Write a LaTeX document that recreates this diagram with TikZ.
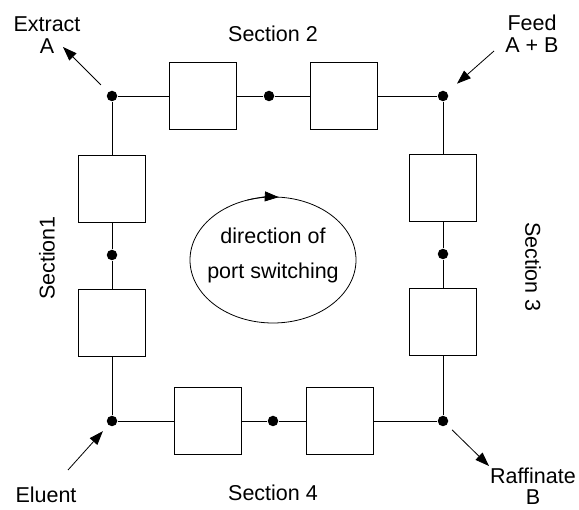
\documentclass[tikz,border=0pt]{standalone}
\usepackage{fontspec}
\setmainfont{Liberation Sans}
\usetikzlibrary{arrows.meta,shapes.geometric}

\begin{document}
\begin{tikzpicture}[x=1pt, y=-1pt, line width=0.8pt,
    column/.style={draw, minimum width=67pt, minimum height=67pt, inner sep=0pt},
    port/.style={circle, fill, inner sep=0pt, minimum size=10.5pt},
    flow/.style={-{Triangle[length=14pt, width=10pt]}},
    lbl/.style={font=\fontsize{21.5}{22}\selectfont, align=center, inner sep=0pt}]
    \useasboundingbox (0,0) rectangle (579,510);

    % ports at the corners and between the columns
    \node[port] (pE) at (112,96) {};
    \node[port] (pF) at (443,96) {};
    \node[port] (pR) at (443,421) {};
    \node[port] (pD) at (112,421) {};
    \node[port] (m2) at (269,96) {};
    \node[port] (m3) at (443,254) {};
    \node[port] (m4) at (273,421) {};
    \node[port] (m1) at (112,255) {};

    % columns
    \node[column] (s2a) at (202.5,96) {};
    \node[column] (s2b) at (343.5,96) {};
    \node[column] (s3a) at (443,187.5) {};
    \node[column] (s3b) at (443,321.5) {};
    \node[column] (s4b) at (340,421) {};
    \node[column] (s4a) at (207.5,421) {};
    \node[column] (s1b) at (112,322.5) {};
    \node[column] (s1a) at (112,188.5) {};

    \draw (pE) -- (s2a) -- (m2) -- (s2b) -- (pF) -- (s3a) -- (m3) -- (s3b) -- (pR)
        -- (s4b) -- (m4) -- (s4a) -- (pD) -- (s1b) -- (m1) -- (s1a) -- (pE);

    % streams in and out
    \coordinate (xa) at (63,47);
    \coordinate (fa) at (494,51);
    \coordinate (ea) at (68,470);
    \coordinate (ra) at (489,466);
    \draw[flow, shorten <=10pt] (pE) -- (xa);
    \draw[flow, shorten >=13pt] (fa) -- (pF);
    \draw[flow, shorten >=8pt] (ea) -- (pD);
    \draw[flow, shorten <=7pt] (pR) -- (ra);

    \node[lbl] (extract) at (47,35) {Extract\\A};
    \node[lbl] (feed) at (532,34) {Feed\\A + B};
    \node[lbl] (eluent) at (46,495) {Eluent};
    \node[lbl, font=\fontsize{21.5}{21}\selectfont] (raffinate) at (533,486) {Raffinate\\B};
    \node[lbl] (sec2) at (273,34) {Section 2};
    \node[lbl] (sec4) at (273,493) {Section 4};
    \node[lbl, rotate=90] (sec1) at (47,258) {Section1};
    \node[lbl, rotate=-90] (sec3) at (533,267) {Section 3};

    % switching direction
    \node[draw, ellipse, minimum width=166pt, minimum height=126pt, inner sep=0pt] (sw) at (273,260) {};
    \draw[flow] (sw.center) ++(108:83pt and 63pt) arc[start angle=108, end angle=86, x radius=83pt, y radius=63pt];
    \node[lbl, font=\fontsize{21.5}{35}\selectfont] (swtext) at (273,255) {direction of\\port switching};
\end{tikzpicture}
\end{document}
